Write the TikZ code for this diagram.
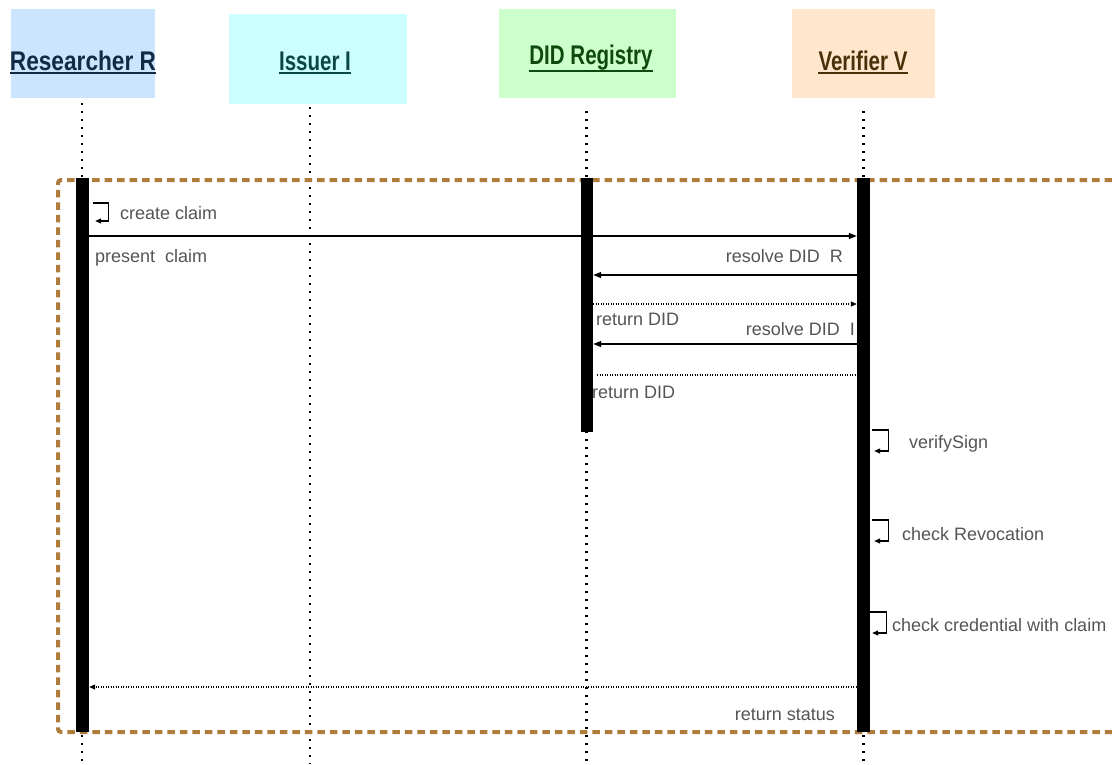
\documentclass[tikz,border=0pt]{standalone}
\usepackage{fontspec}
\setmainfont{Liberation Sans}
\newfontfamily\headfont[FakeStretch=0.76]{Liberation Sans}
\newfontfamily\headwidefont[FakeStretch=0.84]{Liberation Sans}
\usetikzlibrary{arrows.meta}
\definecolor{rfill}{HTML}{CCE5FF}
\definecolor{ifill}{HTML}{CCFFFF}
\definecolor{dfill}{HTML}{CCFFCC}
\definecolor{vfill}{HTML}{FFE6CC}
\definecolor{rtext}{HTML}{0F2B46}
\definecolor{itext}{HTML}{0B4747}
\definecolor{dtext}{HTML}{0E4A0E}
\definecolor{vtext}{HTML}{4A3008}
\definecolor{framebrown}{HTML}{B07C3C}
\definecolor{lbl}{HTML}{555555}
\tikzset{
  x=1pt, y=-1pt,
  headbox/.style={draw=none, inner sep=0pt},
  headtxt/.style={inner sep=0pt, anchor=base, font=\headfont\bfseries\fontsize{27}{30}\selectfont},
  uline/.style={line width=1.6pt},
  lifeline/.style={line width=2.2pt, dash pattern=on 2.2pt off 5.8pt},
  actbar/.style={fill=black, draw=none, inner sep=0pt, anchor=north},
  framebox/.style={draw=framebrown, line width=4pt, dash pattern=on 7.5pt off 5pt},
  msg/.style={line width=1.3pt, -{Triangle[length=8pt,width=6pt]}},
  retmsg/.style={line width=1.2pt, dash pattern=on 1.2pt off 1.3pt},
  selfloop/.style={line width=1.2pt, -{Triangle[length=6pt,width=5pt]}},
  lbltxt/.style={inner sep=0pt, text=lbl, font=\fontsize{18}{21}\selectfont},
}
\begin{document}
\begin{tikzpicture}
\useasboundingbox[fill=white] (0,0) rectangle (1112,764);
% header boxes
\node[headbox, fill=rfill, minimum width=144pt, minimum height=89pt] (hrbox) at (83,53.5) {};
\node[headbox, fill=ifill, minimum width=178pt, minimum height=90pt] (hibox) at (318,59) {};
\node[headbox, fill=dfill, minimum width=177pt, minimum height=89pt] (hdbox) at (587.5,53.5) {};
\node[headbox, fill=vfill, minimum width=143pt, minimum height=89pt] (hvbox) at (863.5,53.5) {};
\node[headtxt, text=rtext, font=\headwidefont\bfseries\fontsize{27}{30}\selectfont] (hrt) at (83,70) {Researcher R};
\node[headtxt, text=itext] (hit) at (315,70) {Issuer I};
\node[headtxt, text=dtext] (hdt) at (591,64) {DID Registry};
\node[headtxt, text=vtext] (hvt) at (863,70) {Verifier V};
\draw[uline, draw=rtext] ([yshift=-3pt]hrt.base west) -- ([yshift=-3pt]hrt.base east);
\draw[uline, draw=itext] ([yshift=-3pt]hit.base west) -- ([yshift=-3pt]hit.base east);
\draw[uline, draw=dtext] ([yshift=-7pt]hdt.base west) -- ([yshift=-7pt]hdt.base east);
\draw[uline, draw=vtext] ([yshift=-3pt]hvt.base west) -- ([yshift=-3pt]hvt.base east);
% lifelines
\coordinate (rtop) at (82,103);  \coordinate (rbot) at (82,764);
\coordinate (itop) at (310,107); \coordinate (ibot) at (310,764);
\coordinate (dtop) at (586.5,111); \coordinate (dbot) at (586.5,764);
\coordinate (vtop) at (863.5,111); \coordinate (vbot) at (863.5,764);
\draw[lifeline] (rtop) -- (rbot);
\draw[lifeline] (itop) -- (ibot);
\draw[lifeline] (dtop) -- (dbot);
\draw[lifeline] (vtop) -- (vbot);
% frame
\coordinate (ftr) at (1112,180);
\coordinate (ftl) at (58,180);
\coordinate (fbl) at (58,732);
\coordinate (fbr) at (1112,732);
\draw[framebox, rounded corners=3pt] (ftr) -- (ftl) -- (fbl) -- (fbr);
% activation bars
\node[actbar, minimum width=13pt, minimum height=554pt] (rbar) at (82.5,178) {};
\node[actbar, minimum width=12pt, minimum height=254pt] (dbar) at (587,178) {};
\node[actbar, minimum width=13pt, minimum height=554pt] (vbar) at (863.5,178) {};
% message levels
\coordinate (y1) at (0,236);
\coordinate (y2) at (0,275);
\coordinate (y3) at (0,304);
\coordinate (y4) at (0,344);
\coordinate (y5) at (0,375);
\coordinate (y6) at (0,687);
\coordinate (l1) at (0,203);
\coordinate (l2) at (0,430);
\coordinate (l3) at (0,520);
\coordinate (l4) at (0,612);
% self loops
\draw[selfloop] ([xshift=4pt]rbar.east |- l1) -- ++(15,0) -- ++(0,18) -- ++(-13,0);
\draw[selfloop] ([xshift=2pt]vbar.east |- l2) -- ++(16,0) -- ++(0,21) -- ++(-14,0);
\draw[selfloop] ([xshift=2pt]vbar.east |- l3) -- ++(16,0) -- ++(0,21) -- ++(-14,0);
\draw[selfloop] ([xshift=0pt]vbar.east |- l4) -- ++(16,0) -- ++(0,21) -- ++(-14,0);
% messages
\draw[msg] (rbar.east |- y1) -- (vbar.west |- y1);
\draw[msg] (vbar.west |- y2) -- (dbar.east |- y2);
\draw[retmsg, -{Triangle[length=6pt,width=5pt]}] (dbar.east |- y3) -- (vbar.west |- y3);
\draw[msg] (vbar.west |- y4) -- (dbar.east |- y4);
\draw[retmsg] ([xshift=4pt]dbar.east |- y5) -- ([xshift=-2pt]vbar.west |- y5);
\draw[retmsg, -{Triangle[length=6pt,width=5pt]}] (vbar.west |- y6) -- (rbar.east |- y6);
% labels
\node[lbltxt, anchor=base west] (t1) at (120,219) {create claim};
\node[lbltxt, anchor=base west] (t2) at (95,262) {present\ \ claim};
\node[lbltxt, anchor=base east] (t3) at (843,262) {resolve DID\ \ R};
\node[lbltxt, anchor=base west] (t4) at (596,325) {return DID};
\node[lbltxt, anchor=base east] (t5) at (855,335) {resolve DID\ \ I};
\node[lbltxt, anchor=base west] (t6) at (592,398) {return DID};
\node[lbltxt, anchor=base west] (t7) at (909,448) {verifySign};
\node[lbltxt, anchor=base west] (t8) at (902,540) {check Revocation};
\node[lbltxt, anchor=base west] (t9) at (892,631) {check credential with claim};
\node[lbltxt, anchor=base east] (t10) at (835,720) {return status};
\end{tikzpicture}
\end{document}
